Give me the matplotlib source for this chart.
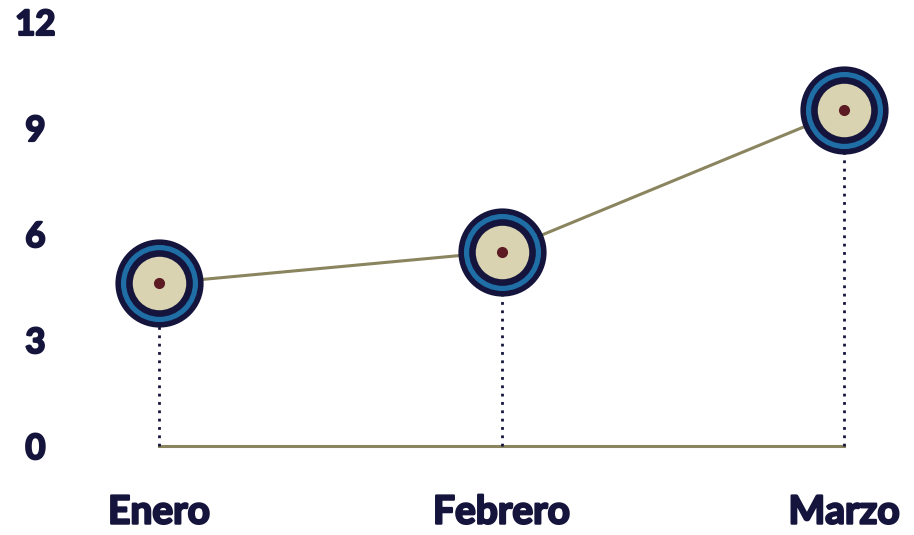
import matplotlib
matplotlib.use("Agg")
import matplotlib.pyplot as plt
import matplotlib.patheffects as pe

months = ["Enero", "Febrero", "Marzo"]
values = [4.6, 5.5, 9.5]
y_ticks = [0, 3, 6, 9, 12]

navy = "#14143c"
blue = "#1f6ea6"
cream = "#d9d3b2"
dot = "#5c1a22"
olive = "#8a845f"

plt.rcParams["font.family"] = ["Lato", "DejaVu Sans"]

fig = plt.figure(figsize=(9.14, 5.35), dpi=100)
ax = fig.add_axes([159 / 914, 89 / 535, (844 - 159) / 914, (446 - 22) / 535])

x = list(range(len(months)))

# connecting line and baseline
ax.plot(x, values, color=olive, lw=2.2, zorder=2, clip_on=False)
ax.plot([x[0], x[-1]], [0, 0], color=olive, lw=2.2, zorder=1, clip_on=False)

# dotted drop lines
for xi, v in zip(x, values):
    ax.plot([xi, xi], [0, v], color=navy, lw=2, ls=(0, (1, 2)), zorder=1, clip_on=False)

# layered markers
for size, color in [(63.5, navy), (55.5, blue), (48, navy), (38.5, cream), (8, dot)]:
    ax.plot(x, values, ls="none", marker="o", ms=size, mfc=color, mec="none",
            zorder=3, clip_on=False)

ax.set_xlim(0, 2)
ax.set_ylim(0, 12)
ax.set_xticks(x)
ax.set_xticklabels(months, fontsize=28, fontweight="bold", color=navy)
ax.set_yticks(y_ticks)
ax.set_yticklabels([str(t) for t in y_ticks], fontsize=25, fontweight="bold",
                   color=navy, ha="center")
ax.tick_params(axis="x", length=0, pad=35)
ax.tick_params(axis="y", length=0, pad=89)

# thicken the bold labels a bit to get closer to a black weight
heavy = [pe.withStroke(linewidth=1.6, foreground=navy)]
for lbl in ax.get_xticklabels() + ax.get_yticklabels():
    lbl.set_path_effects(heavy)

for s in ax.spines.values():
    s.set_visible(False)

fig.savefig("out.png", dpi=100)
